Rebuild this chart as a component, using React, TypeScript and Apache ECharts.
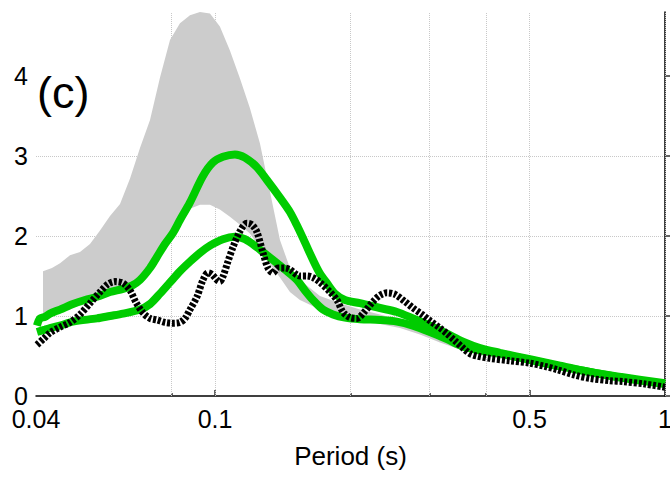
import React, { useEffect, useRef } from 'react';
import * as echarts from 'echarts';

// ---- data (period in s, spectral value) ----
const bandPeriods = [0.04146, 0.0434, 0.04523, 0.0476, 0.0501, 0.05273, 0.0555, 0.05842, 0.06149, 0.06472, 0.0681, 0.07169, 0.07545, 0.07941, 0.08357, 0.08796, 0.09257, 0.09743, 0.1025, 0.1079, 0.1136, 0.1195, 0.1258, 0.1325, 0.1394, 0.1467, 0.1544, 0.1711, 0.1895, 0.2099, 0.2326, 0.2576, 0.2854, 0.3161, 0.3502, 0.3879, 0.4297, 0.5273, 0.6472, 0.7941, 1.0];
const bandLower = [0.98, 1.02, 1.07, 1.12, 1.17, 1.2, 1.24, 1.28, 1.31, 1.35, 1.42, 1.57, 1.82, 2.06, 2.24, 2.34, 2.39, 2.39, 2.33, 2.24, 2.14, 2.03, 1.86, 1.65, 1.48, 1.3, 1.2, 1.08, 1.0, 0.95, 0.9, 0.85, 0.77, 0.67, 0.58, 0.51, 0.47, 0.39, 0.29, 0.2, 0.12];
const bandUpper = [1.56, 1.6, 1.66, 1.76, 1.8, 1.9, 2.07, 2.25, 2.4, 2.72, 3.1, 3.45, 3.98, 4.45, 4.66, 4.76, 4.8, 4.78, 4.62, 4.32, 3.97, 3.6, 3.16, 2.55, 1.95, 1.6, 1.45, 1.25, 1.16, 1.08, 1.02, 0.95, 0.88, 0.78, 0.67, 0.58, 0.52, 0.43, 0.33, 0.24, 0.16];

const greenUpperPeriods = [0.0402, 0.04083, 0.04189, 0.04297, 0.04523, 0.04833, 0.0514, 0.05465, 0.05842, 0.06244, 0.06537, 0.0681, 0.07169, 0.0743, 0.0774, 0.08064, 0.08357, 0.08796, 0.094, 0.09894, 0.1041, 0.1107, 0.1165, 0.1239, 0.1304, 0.1394, 0.1467, 0.1521, 0.1584, 0.1651, 0.1711, 0.1773, 0.1847, 0.1944, 0.2099, 0.2326, 0.2537, 0.2753, 0.3004, 0.3276, 0.3556, 0.3879, 0.4297, 0.501, 0.5842, 0.681, 0.7941, 1.0];
const greenUpperValues = [0.88, 0.97, 0.99, 1.03, 1.08, 1.15, 1.2, 1.24, 1.3, 1.34, 1.38, 1.45, 1.6, 1.74, 1.9, 2.04, 2.2, 2.42, 2.75, 2.92, 2.99, 3.02, 2.98, 2.86, 2.7, 2.48, 2.3, 2.13, 1.92, 1.7, 1.53, 1.41, 1.28, 1.2, 1.16, 1.1, 1.05, 0.97, 0.88, 0.78, 0.68, 0.6, 0.54, 0.46, 0.38, 0.3, 0.24, 0.16];

const greenLowerPeriods = [0.0402, 0.04189, 0.04297, 0.04523, 0.04833, 0.05465, 0.05842, 0.06244, 0.0681, 0.07169, 0.07545, 0.07941, 0.08357, 0.08796, 0.09257, 0.09743, 0.1041, 0.1107, 0.1165, 0.1239, 0.1304, 0.1373, 0.1445, 0.1521, 0.1584, 0.1651, 0.1737, 0.1828, 0.1944, 0.2099, 0.2326, 0.2537, 0.2753, 0.3004, 0.3276, 0.3556, 0.3879, 0.4297, 0.501, 0.5842, 0.681, 0.7941, 1.0];
const greenLowerValues = [0.8, 0.83, 0.85, 0.88, 0.93, 0.97, 1.0, 1.03, 1.08, 1.15, 1.28, 1.42, 1.56, 1.68, 1.79, 1.88, 1.96, 1.99, 1.96, 1.86, 1.76, 1.66, 1.56, 1.45, 1.32, 1.2, 1.08, 1.02, 0.98, 0.96, 0.95, 0.93, 0.88, 0.8, 0.71, 0.62, 0.57, 0.53, 0.45, 0.37, 0.3, 0.23, 0.15];

const observedPeriods = [0.0402, 0.04167, 0.04297, 0.04523, 0.0476, 0.0501, 0.05273, 0.0555, 0.05782, 0.05992, 0.06244, 0.06472, 0.06672, 0.06916, 0.07169, 0.0743, 0.0774, 0.08064, 0.08357, 0.08574, 0.08796, 0.09116, 0.094, 0.09644, 0.09843, 0.101, 0.1025, 0.1041, 0.1068, 0.1096, 0.1136, 0.1177, 0.1208, 0.1239, 0.1278, 0.1311, 0.1345, 0.138, 0.143, 0.1467, 0.1544, 0.16, 0.1651, 0.1711, 0.1801, 0.1866, 0.1924, 0.1995, 0.2067, 0.2154, 0.2244, 0.2326, 0.241, 0.2512, 0.2643, 0.2753, 0.2883, 0.3004, 0.3161, 0.3276, 0.3414, 0.3556, 0.3685, 0.382, 0.4083, 0.4522, 0.501, 0.541, 0.5754, 0.6307, 0.681, 0.7544, 0.8064, 0.9024, 1.0];
const observedValues = [0.64, 0.72, 0.79, 0.86, 0.92, 1.02, 1.16, 1.3, 1.4, 1.43, 1.41, 1.32, 1.17, 1.04, 0.97, 0.95, 0.92, 0.91, 0.92, 0.97, 1.08, 1.24, 1.45, 1.54, 1.52, 1.45, 1.43, 1.49, 1.68, 1.86, 2.06, 2.16, 2.14, 2.05, 1.79, 1.6, 1.54, 1.6, 1.6, 1.58, 1.5, 1.5, 1.48, 1.42, 1.3, 1.2, 1.05, 0.98, 0.97, 1.06, 1.18, 1.26, 1.29, 1.27, 1.18, 1.1, 1.02, 0.94, 0.85, 0.78, 0.69, 0.6, 0.53, 0.5, 0.47, 0.44, 0.41, 0.37, 0.33, 0.26, 0.22, 0.19, 0.18, 0.15, 0.11];

const xTickLabels = [0.04, 0.1, 0.5, 1];
const xMajorTicks = [0.1, 0.5];
const xMinorTicks = [0.08, 0.2, 0.3, 0.4];
const xGridLines = [0.08, 0.1, 0.2, 0.3, 0.4, 0.5, 1];
const yTicks = [0, 1, 2, 3, 4];
const xMin = 0.04;
const xMax = 1;
const yMax = 4.8;
const panelLabel = '(c)';
const xAxisTitle = 'Period (s)';

const FONT = "'Liberation Sans', Arial, Helvetica, sans-serif";
const GREEN = '#00cc00';
const lg = (v: number) => Math.log10(v);

const GRID_TOP = 12;
const GRID_BOTTOM = 81;
const H = 477;

export default function App() {
  const ref = useRef<HTMLDivElement>(null);
  useEffect(() => {
    if (!ref.current) return;
    const chart = echarts.init(ref.current, null, { renderer: 'svg' });
    const plotH = H - GRID_TOP - GRID_BOTTOM;
    const baseX = {
      type: 'value',
      min: lg(xMin),
      max: lg(xMax),
      position: 'bottom',
      splitLine: { show: false },
    };
    const option: any = {
      animation: false,
      backgroundColor: '#ffffff',
      textStyle: { fontFamily: FONT },
      grid: { left: 36, right: 5, top: GRID_TOP, bottom: GRID_BOTTOM, containLabel: false, outerBoundsMode: 'none' },
      xAxis: [
        {
          ...baseX,
          axisLine: { show: true, lineStyle: { color: '#000', width: 1.5 } },
          axisTick: { show: true, inside: true, length: 6, customValues: xMajorTicks.map(lg), lineStyle: { color: '#333', width: 1.5 } },
          axisLabel: {
            customValues: xTickLabels.map(lg),
            formatter: (v: number) => String(+Math.pow(10, v).toPrecision(2)),
            fontSize: 25,
            color: '#000',
            fontFamily: FONT,
            margin: 10,
          },
          name: xAxisTitle,
          nameLocation: 'middle',
          nameGap: 47,
          nameTextStyle: { fontSize: 26, color: '#000', fontFamily: FONT },
        },
        {
          ...baseX,
          axisLine: { show: false },
          axisLabel: { show: false },
          axisTick: { show: true, inside: true, length: 3, customValues: xMinorTicks.map(lg), lineStyle: { color: '#333', width: 1.5 } },
        },
        {
          ...baseX,
          axisLine: { show: false },
          axisLabel: { show: false },
          axisTick: { show: true, inside: true, length: plotH, customValues: xGridLines.map(lg), lineStyle: { color: '#c8c8c8', width: 1, type: 'dotted' } },
        },
      ],
      yAxis: {
        type: 'value',
        min: 0,
        max: yMax,
        interval: 1,
        axisLine: { show: true, lineStyle: { color: '#000', width: 1.5 } },
        axisTick: { show: true, inside: true, length: 6, customValues: yTicks, lineStyle: { color: '#333', width: 1.5 } },
        axisLabel: { customValues: yTicks, fontSize: 25, color: '#000', fontFamily: FONT, margin: 8 },
        splitLine: { show: true, showMinLine: false, showMaxLine: false, lineStyle: { color: '#c8c8c8', width: 1, type: 'dotted' } },
      },
      graphic: [
        {
          type: 'text',
          left: 37,
          top: 70,
          z: 10,
          style: { text: panelLabel, fontSize: 45, fill: '#000', fontFamily: FONT },
        },
      ],
      series: [
        {
          type: 'custom',
          name: 'band',
          coordinateSystem: 'cartesian2d',
          xAxisIndex: 0,
          yAxisIndex: 0,
          silent: true,
          z: 1,
          clip: true,
          data: bandPeriods.map((p, i) => [lg(p), bandLower[i], bandUpper[i]]),
          encode: { x: 0, y: [1, 2] },
          renderItem: (params: any, api: any) => {
            if (params.dataIndex !== 0) return null;
            const pts: number[][] = [];
            for (let i = 0; i < bandPeriods.length; i++) pts.push(api.coord([lg(bandPeriods[i]), bandUpper[i]]));
            for (let i = bandPeriods.length - 1; i >= 0; i--) pts.push(api.coord([lg(bandPeriods[i]), bandLower[i]]));
            return { type: 'polygon', shape: { points: pts }, style: { fill: '#cccccc', stroke: null } };
          },
        },
        {
          type: 'line',
          name: 'upper',
          data: greenUpperPeriods.map((p, i) => [lg(p), greenUpperValues[i]]),
          symbol: 'none',
          smooth: 0.3,
          z: 3,
          lineStyle: { color: GREEN, width: 8, cap: 'butt' },
        },
        {
          type: 'line',
          name: 'lower',
          data: greenLowerPeriods.map((p, i) => [lg(p), greenLowerValues[i]]),
          symbol: 'none',
          smooth: 0.3,
          z: 3,
          lineStyle: { color: GREEN, width: 8, cap: 'butt' },
        },
        {
          type: 'line',
          name: 'observed',
          data: observedPeriods.map((p, i) => [lg(p), observedValues[i]]),
          symbol: 'none',
          smooth: 0.3,
          z: 4,
          lineStyle: { color: '#000', width: 7, type: [3, 1.8], cap: 'butt' },
        },
      ],
    };
    chart.setOption(option);
    return () => chart.dispose();
  }, []);
  return <div ref={ref} style={{ position: 'absolute', left: 0, top: 0, width: 670, height: 477 }} />;
}
